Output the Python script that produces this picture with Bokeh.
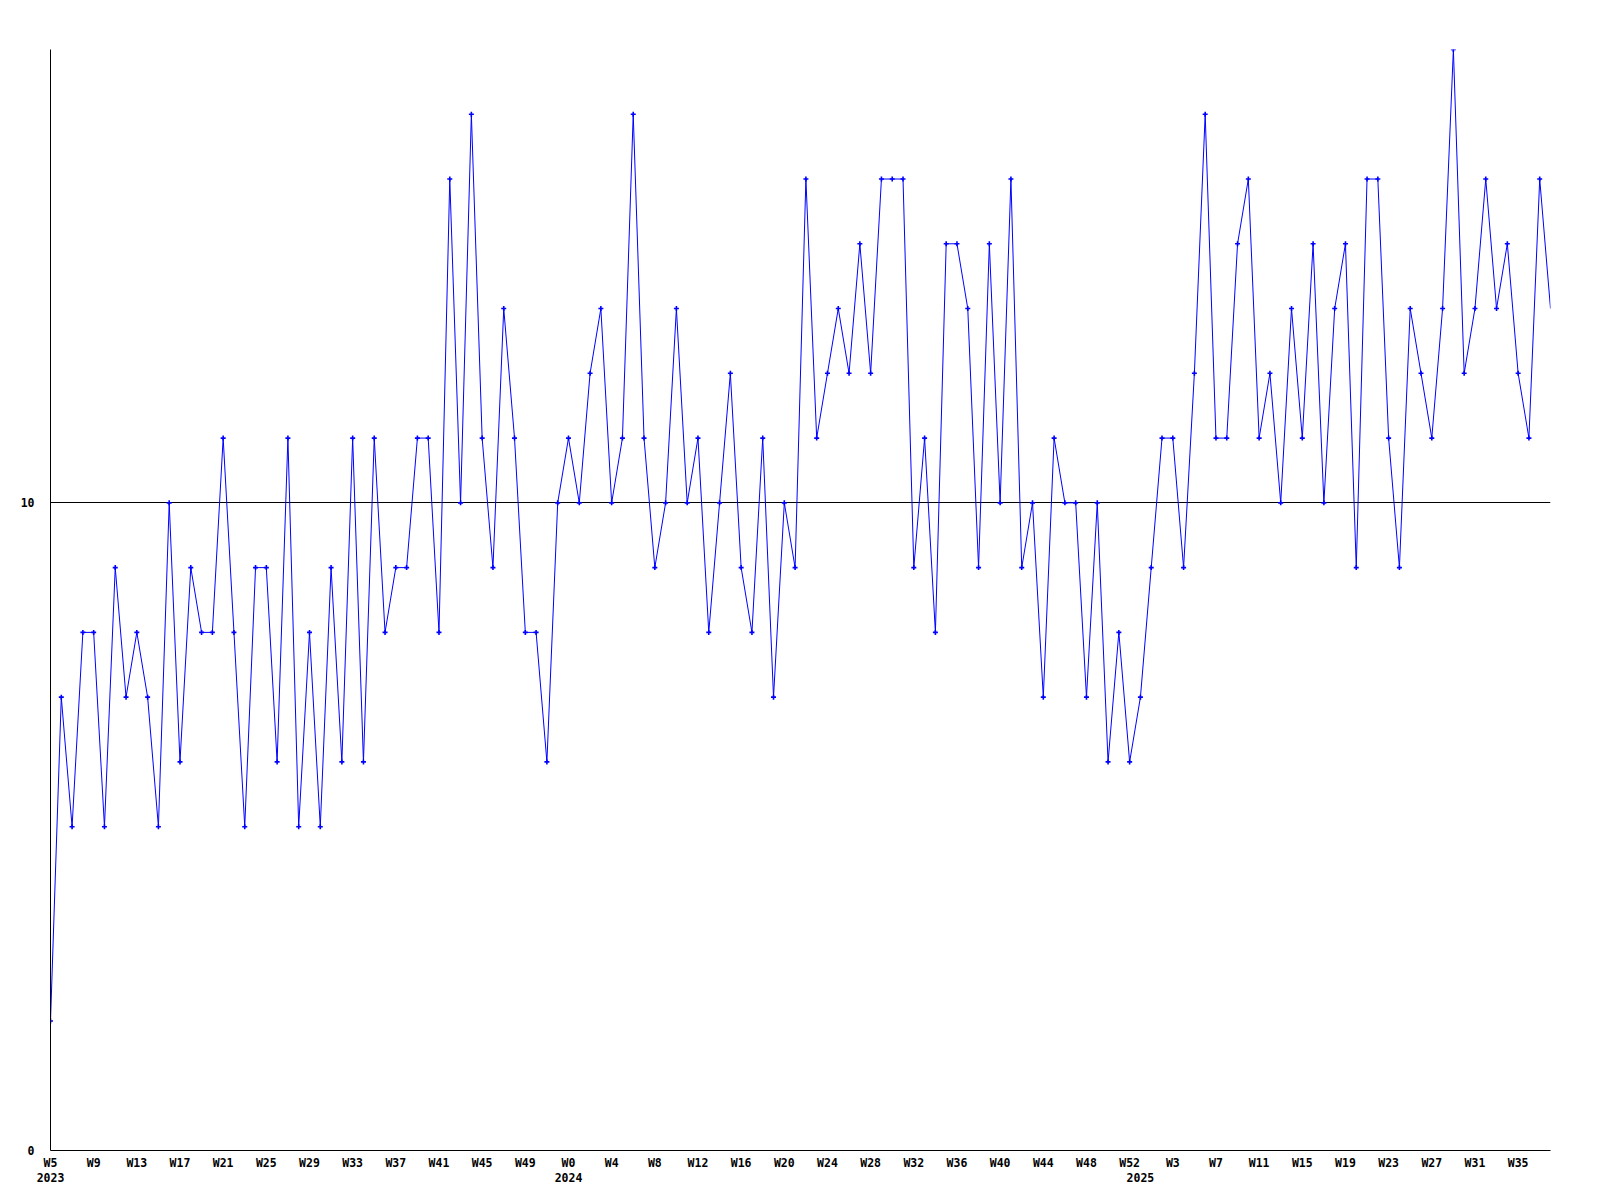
from bokeh.plotting import figure
from bokeh.models import ColumnDataSource, Range1d, FixedTicker, LinearAxis, CDSView, IndexFilter
from bokeh.embed import file_html
from bokeh.resources import INLINE

# weekly values, W5 2023 .. W38 2025
values = [2, 7, 5, 8, 8, 5, 9, 7, 8, 7,
          5, 10, 6, 9, 8, 8, 11, 8, 5, 9,
          9, 6, 11, 5, 8, 5, 9, 6, 11, 6,
          11, 8, 9, 9, 11, 11, 8, 15, 10, 16,
          11, 9, 13, 11, 8, 8, 6, 10, 11, 10,
          12, 13, 10, 11, 16, 11, 9, 10, 13, 10,
          11, 8, 10, 12, 9, 8, 11, 7, 10, 9,
          15, 11, 12, 13, 12, 14, 12, 15, 15, 15,
          9, 11, 8, 14, 14, 13, 9, 14, 10, 15,
          9, 10, 7, 11, 10, 10, 7, 10, 6, 8,
          6, 7, 9, 11, 11, 9, 12, 16, 11, 11,
          14, 15, 11, 12, 10, 13, 11, 14, 10, 13,
          14, 9, 15, 15, 11, 9, 13, 12, 11, 13,
          17, 12, 13, 15, 13, 14, 12, 11, 15, 13]

week_labels = ["W5", "W9", "W13", "W17", "W21", "W25", "W29", "W33", "W37", "W41", "W45", "W49",
               "W0", "W4", "W8", "W12", "W16", "W20", "W24", "W28", "W32", "W36", "W40", "W44", "W48", "W52",
               "W3", "W7", "W11", "W15", "W19", "W23", "W27", "W31", "W35"]
label_every = 4
year_labels = ["2023", "2024", "2025"]
year_first_week = [0, 48, 101]
y_ticks = [0, 10]
y_max = 17

idx = list(range(len(values)))
src = ColumnDataSource(data=dict(x=idx, y=values))

p = figure(width=1600, height=1200, output_backend="svg", toolbar_location=None,
           x_range=Range1d(0, len(values) - 1), y_range=Range1d(0, y_max),
           min_border_left=50, min_border_right=50, min_border_top=49, min_border_bottom=50)
p.outline_line_color = None
p.background_fill_color = "white"
p.border_fill_color = "white"

FONT = "DejaVu Sans Mono"

p.line("x", "y", source=src, line_color="#0000ff", line_width=1)
view = CDSView(filter=IndexFilter(list(range(len(values) - 1))))
p.scatter("x", "y", source=src, view=view, marker="cross", size=5, line_width=1.6, line_color="#0000ff")

# x axis: week labels
tick_pos = [i * label_every for i in range(len(week_labels))]
xa = p.xaxis[0]
xa.ticker = FixedTicker(ticks=tick_pos)
xa.major_label_overrides = {t: l for t, l in zip(tick_pos, week_labels)}
xa.major_tick_line_color = None
xa.minor_tick_line_color = None
xa.major_tick_out = 0
xa.major_label_standoff = 5
xa.axis_line_color = "black"
xa.major_label_text_font = FONT
xa.major_label_text_font_style = "bold"
xa.major_label_text_font_size = "11.5px"
xa.major_label_text_color = "black"

# year axis under it
ya2 = LinearAxis(ticker=FixedTicker(ticks=year_first_week),
                 major_label_overrides={t: l for t, l in zip(year_first_week, year_labels)})
ya2.axis_line_color = None
ya2.major_tick_line_color = None
ya2.minor_tick_line_color = None
ya2.major_tick_out = 0
ya2.major_label_standoff = 0
ya2.major_label_text_font = FONT
ya2.major_label_text_font_style = "bold"
ya2.major_label_text_font_size = "11.5px"
ya2.major_label_text_color = "black"
p.add_layout(ya2, "below")

# y axis
ya = p.yaxis[0]
ya.ticker = FixedTicker(ticks=y_ticks)
ya.major_tick_line_color = None
ya.minor_tick_line_color = None
ya.major_tick_out = 0
ya.major_label_standoff = 16
ya.axis_line_color = "black"
ya.major_label_text_font = FONT
ya.major_label_text_font_style = "bold"
ya.major_label_text_font_size = "11.5px"
ya.major_label_text_color = "black"

p.xgrid.visible = False
p.ygrid.ticker = FixedTicker(ticks=[10])
p.ygrid.grid_line_color = "black"
p.ygrid.grid_line_alpha = 1.0
p.ygrid.grid_line_width = 1

open("out.html", "w").write(file_html(p, INLINE))
